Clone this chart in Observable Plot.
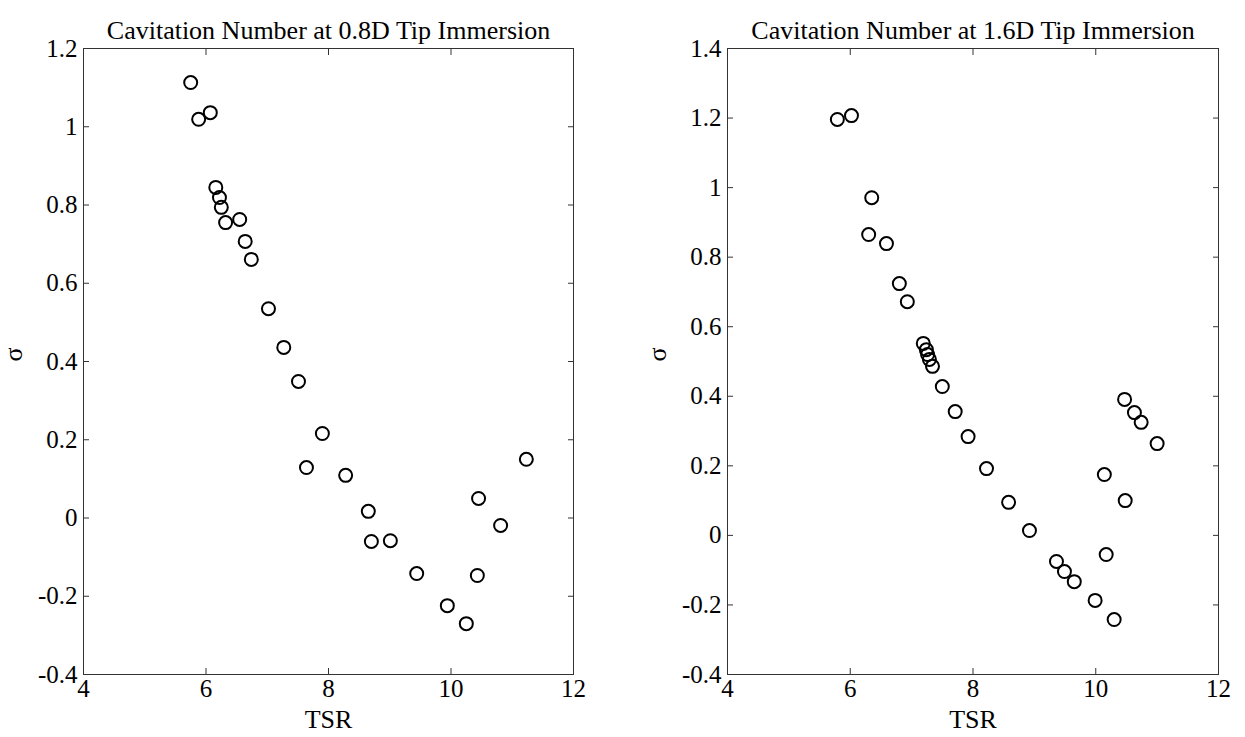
<!DOCTYPE html>
<html>
<head>
<meta charset="utf-8">
<script src="https://cdn.jsdelivr.net/npm/d3@7"></script>
<script src="https://cdn.jsdelivr.net/npm/@observablehq/plot@0.6"></script>
<style>
  html, body { margin: 0; padding: 0; background: white; }
  #wrap { display: flex; width: 1245px; height: 737px; }
</style>
</head>
<body>
<div id="wrap"></div>
<script>
// ---- data ----
const leftTitle = "Cavitation Number at 0.8D Tip Immersion";
const rightTitle = "Cavitation Number at 1.6D Tip Immersion";
const xLabel = "TSR";
const yLabel = "σ";

const leftTSR = [5.75, 5.88, 6.07, 6.16, 6.22, 6.25, 6.32, 6.55, 6.64, 6.74, 7.02, 7.27, 7.51, 7.64, 7.90, 8.28, 8.65, 8.70, 9.01, 9.44, 9.94, 10.25, 10.43, 10.45, 10.81, 11.23];
const leftSigma = [1.113, 1.019, 1.036, 0.845, 0.819, 0.794, 0.755, 0.763, 0.707, 0.661, 0.535, 0.436, 0.349, 0.129, 0.216, 0.109, 0.017, -0.060, -0.058, -0.142, -0.224, -0.270, -0.147, 0.050, -0.019, 0.150];

const rightTSR = [5.79, 6.02, 6.35, 6.30, 6.59, 6.80, 6.93, 7.19, 7.24, 7.26, 7.29, 7.34, 7.50, 7.71, 7.92, 8.22, 8.58, 8.92, 9.36, 9.49, 9.65, 9.99, 10.30, 10.17, 10.48, 10.14, 11.00, 10.74, 10.63, 10.47];
const rightSigma = [1.196, 1.207, 0.971, 0.865, 0.839, 0.724, 0.672, 0.552, 0.534, 0.520, 0.506, 0.486, 0.428, 0.356, 0.284, 0.192, 0.095, 0.014, -0.075, -0.104, -0.133, -0.187, -0.242, -0.055, 0.100, 0.175, 0.264, 0.325, 0.353, 0.391];

const xTicks = [4, 6, 8, 10, 12];
const xTickLabels = ["4", "6", "8", "10", "12"];
const leftYTicks = [-0.4, -0.2, 0, 0.2, 0.4, 0.6, 0.8, 1, 1.2];
const leftYTickLabels = ["-0.4", "-0.2", "0", "0.2", "0.4", "0.6", "0.8", "1", "1.2"];
const rightYTicks = [-0.4, -0.2, 0, 0.2, 0.4, 0.6, 0.8, 1, 1.2, 1.4];
const rightYTickLabels = ["-0.4", "-0.2", "0", "0.2", "0.4", "0.6", "0.8", "1", "1.2", "1.4"];
const leftYDomain = [-0.4, 1.2];
const rightYDomain = [-0.4, 1.4];
const xDomain = [4, 12];

// ---- drawing ----
const FONT = "'Liberation Serif', 'Times New Roman', Times, serif";

function panel(tsr, sigma, yDomain, yTicks, yTickLabels, title, width, mL, mR) {
  const data = tsr.map((t, i) => ({tsr: t, sigma: sigma[i]}));
  const xMap = new Map(xTicks.map((t, i) => [t, xTickLabels[i]]));
  const yMap = new Map(yTicks.map((t, i) => [t, yTickLabels[i]]));
  return Plot.plot({
    width, height: 737,
    marginLeft: mL, marginRight: mR, marginTop: 48, marginBottom: 63,
    x: {domain: xDomain},
    y: {domain: yDomain},
    style: {fontFamily: FONT, fontSize: "25px", color: "black", background: "white", overflow: "visible"},
    marks: [
      Plot.frame({stroke: "#333", strokeWidth: 1}),
      Plot.axisX(xTicks, {anchor: "bottom", tickSize: -6, tickPadding: 11, label: null, stroke: "#333", tickFormat: d => xMap.get(d), fontSize: 25}),
      Plot.axisX(xTicks, {anchor: "top", tickSize: -6, label: null, stroke: "#333", tickFormat: () => ""}),
      Plot.axisY(yTicks, {anchor: "left", tickSize: -6, tickPadding: 12, label: null, stroke: "#333", tickFormat: d => yMap.get(d), fontSize: 25}),
      Plot.axisY(yTicks, {anchor: "right", tickSize: -6, label: null, stroke: "#333", tickFormat: () => ""}),
      Plot.dot(data, {x: "tsr", y: "sigma", r: 6.5, stroke: "black", strokeWidth: 2, fill: "none"}),
      Plot.text([title], {text: d => d, frameAnchor: "top", dy: -28, fontSize: 26, fill: "black"}),
      Plot.text([xLabel], {text: d => d, frameAnchor: "bottom", dy: 53, fontSize: 26, fill: "black"}),
      Plot.text([yLabel], {text: d => d, frameAnchor: "left", dx: -70, rotate: -90, fontSize: 26, fill: "black"})
    ]
  });
}

const wrap = document.getElementById("wrap");
wrap.appendChild(panel(leftTSR, leftSigma, leftYDomain, leftYTicks, leftYTickLabels, leftTitle, 622, 83, 49));
wrap.appendChild(panel(rightTSR, rightSigma, rightYDomain, rightYTicks, rightYTickLabels, rightTitle, 623, 105, 27));
</script>
</body>
</html>
